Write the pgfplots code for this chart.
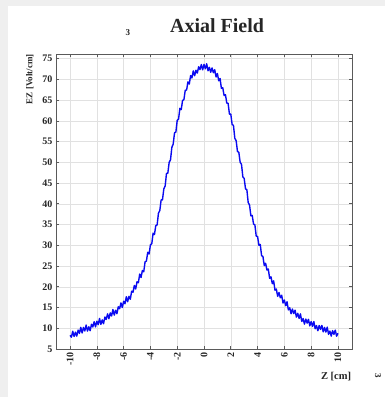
\documentclass[border=0pt]{standalone}
\usepackage{pgfplots}
\pgfplotsset{compat=1.18}
\usepackage{fontspec}
\setmainfont{Liberation Serif}
\definecolor{pagegray}{RGB}{239,239,239}
\definecolor{framegray}{RGB}{90,90,90}
\definecolor{gridgray}{RGB}{225,225,225}
\definecolor{fieldblue}{RGB}{10,10,240}

\pgfplotstableread{
z EZ
-10.0 8.3
-9.9 7.84
-9.8 9.28
-9.7 8.02
-9.6 9.06
-9.5 8.1
-9.4 9.54
-9.3 8.78
-9.2 10.22
-9.1 8.86
-9.0 10.2
-8.9 9.34
-8.8 10.78
-8.7 9.32
-8.6 10.36
-8.5 9.4
-8.4 10.96
-8.3 10.32
-8.2 11.58
-8.1 10.34
-8.0 11.7
-7.9 10.88
-7.8 12.36
-7.7 10.94
-7.6 12.02
-7.5 11.1
-7.4 12.72
-7.3 12.14
-7.2 13.46
-7.1 12.28
-7.0 13.7
-6.9 12.96
-6.8 14.52
-6.7 13.18
-6.6 14.34
-6.5 13.5
-6.4 15.2
-6.3 14.7
-6.2 16.1
-6.1 15.0
-6.0 16.5
-5.9 15.9
-5.8 17.6
-5.7 16.4
-5.6 17.7
-5.5 17.0
-5.4 18.94
-5.3 18.68
-5.2 20.32
-5.1 19.46
-5.0 21.2
-4.9 20.98
-4.8 23.06
-4.7 22.24
-4.6 23.92
-4.5 23.6
-4.4 26.0
-4.3 26.2
-4.2 28.3
-4.1 27.9
-4.0 30.1
-3.9 30.36
-3.8 32.92
-3.7 32.58
-3.6 34.74
-3.5 34.9
-3.4 37.74
-3.3 38.38
-3.2 40.92
-3.1 40.96
-3.0 43.6
-2.9 44.3
-2.8 47.3
-2.7 47.4
-2.6 50.0
-2.5 50.6
-2.4 53.6
-2.3 54.4
-2.2 57.1
-2.1 57.3
-2.0 60.1
-1.9 60.4
-1.8 63.0
-1.7 62.7
-1.6 64.9
-1.5 65.1
-1.4 67.36
-1.3 67.42
-1.2 69.38
-1.1 68.84
-1.0 70.9
-0.9 70.32
-0.8 72.04
-0.7 70.86
-0.6 72.18
-0.5 71.5
-0.4 73.02
-0.3 72.34
-0.2 73.56
-0.1 72.28
0.0 73.6
0.1 72.52
0.2 73.74
0.3 72.06
0.4 72.88
0.5 71.7
0.6 72.74
0.7 71.58
0.8 72.32
0.9 70.56
1.0 71.4
1.1 69.64
1.2 70.18
1.3 67.82
1.4 67.96
1.5 66.1
1.6 66.3
1.7 64.3
1.8 64.2
1.9 61.6
2.0 61.6
2.1 59.1
2.2 58.9
2.3 55.8
2.4 55.2
2.5 52.6
2.6 52.4
2.7 50.0
2.8 49.5
2.9 46.5
3.0 46.1
3.1 43.6
3.2 43.4
3.3 40.3
3.4 39.7
3.5 37.1
3.6 37.2
3.7 35.1
3.8 34.9
3.9 32.2
4.0 32.1
4.1 30.0
4.2 30.2
4.3 27.5
4.4 27.3
4.5 25.1
4.6 25.66
4.7 24.02
4.8 24.28
4.9 22.04
5.0 22.4
5.1 20.76
5.2 21.42
5.3 19.18
5.4 19.44
5.5 17.7
5.6 18.62
5.7 17.34
5.8 17.96
5.9 16.08
6.0 16.8
6.1 15.44
6.2 16.38
6.3 14.42
6.4 14.96
6.5 13.5
6.6 14.62
6.7 13.54
6.8 14.36
6.9 12.68
7.0 13.6
7.1 12.38
7.2 13.46
7.3 11.64
7.4 12.32
7.5 11.0
7.6 12.22
7.7 11.24
7.8 12.16
7.9 10.58
8.0 11.6
8.1 10.46
8.2 11.62
8.3 9.88
8.4 10.64
8.5 9.4
8.6 10.66
8.7 9.72
8.8 10.68
8.9 9.14
9.0 10.2
9.1 9.08
9.2 10.26
9.3 8.54
9.4 9.32
9.5 8.1
9.6 9.42
9.7 8.54
9.8 9.56
9.9 8.08
10.0 8.8
}\axialfield

\begin{document}
\begin{tikzpicture}
  % page background and white panel, measured from the lower left corner of the axis box
  \fill[pagegray] (-56pt,-48pt) rectangle (329pt,349pt);
  \fill[white] (-48pt,-48pt) rectangle (329pt,343pt);
  \begin{axis}[
    scale only axis,
    width=296pt, height=295pt,
    xmin=-11.05, xmax=11.05,
    ymin=5, ymax=76.1,
    xtick={-10,-8,...,10},
    ytick={5,10,...,75},
    grid=major,
    major grid style={gridgray, line width=0.4pt},
    axis line style={framegray, line width=0.6pt},
    tick style={framegray, line width=0.6pt},
    major tick length=3pt,
    tick align=inside,
    xtick pos=both, ytick pos=both,
    /pgf/number format/assume math mode=true,
    ticklabel style={font=\fontsize{10}{11}\selectfont\bfseries, text=black!85},
    xticklabel style={rotate=90, anchor=east},
    clip=false,
  ]
    \addplot[fieldblue, line width=1.4pt, line join=round] table[x=z, y=EZ] {\axialfield};
    \node[font=\fontsize{20}{22}\selectfont\bfseries, text=black!85] at (rel axis cs:0.544,1.095) {Axial Field};
    \node[font=\fontsize{9}{10}\selectfont\bfseries, text=black!85] at (rel axis cs:0.243,1.071) {3};
    \node[font=\fontsize{9}{10}\selectfont\bfseries, text=black!85, rotate=90] at (rel axis cs:-0.088,0.915) {EZ [Volt/cm]};
    \node[font=\fontsize{10.5}{11}\selectfont\bfseries, text=black!85] at (rel axis cs:0.946,-0.095) {Z [cm]};
    \node[font=\fontsize{9}{10}\selectfont\bfseries, text=black!85, rotate=-90] at (rel axis cs:1.088,-0.092) {3};
  \end{axis}
\end{tikzpicture}
\end{document}
